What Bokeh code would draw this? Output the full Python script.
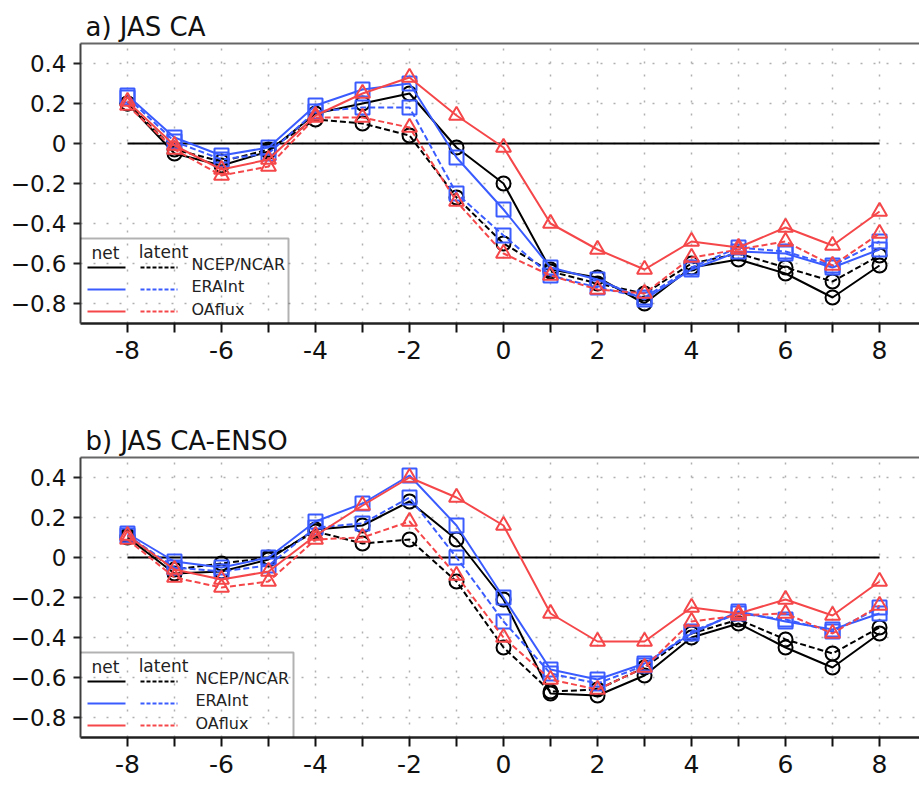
from bokeh.plotting import figure
from bokeh.layouts import column
from bokeh.models import FixedTicker, LinearAxis, BoxAnnotation
from bokeh.core.properties import value
from bokeh.embed import file_html
from bokeh.resources import INLINE

# ---------------- data ----------------
lags = [-8, -7, -6, -5, -4, -3, -2, -1, 0, 1, 2, 3, 4, 5, 6, 7, 8]

# panel a) JAS CA
a_ncep_net = [0.20, -0.05, -0.11, -0.04, 0.15, 0.20, 0.25, -0.02, -0.20, -0.63, -0.67, -0.80, -0.62, -0.58, -0.65, -0.77, -0.61]
a_ncep_lat = [0.20, -0.03, -0.09, -0.03, 0.12, 0.10, 0.04, -0.27, -0.50, -0.64, -0.70, -0.75, -0.60, -0.55, -0.62, -0.69, -0.56]
a_era_net = [0.24, 0.03, -0.06, -0.02, 0.19, 0.27, 0.30, -0.07, -0.33, -0.62, -0.68, -0.78, -0.63, -0.54, -0.55, -0.62, -0.53]
a_era_lat = [0.23, 0.01, -0.08, -0.05, 0.16, 0.18, 0.18, -0.25, -0.46, -0.66, -0.72, -0.77, -0.62, -0.52, -0.54, -0.61, -0.49]
a_oa_net = [0.21, -0.01, -0.13, -0.08, 0.14, 0.25, 0.33, 0.14, -0.02, -0.40, -0.53, -0.63, -0.49, -0.52, -0.42, -0.51, -0.34]
a_oa_lat = [0.19, -0.03, -0.16, -0.115, 0.13, 0.13, 0.08, -0.29, -0.55, -0.66, -0.73, -0.75, -0.57, -0.53, -0.49, -0.61, -0.45]

# panel b) JAS CA-ENSO
b_ncep_net = [0.10, -0.08, -0.07, -0.01, 0.14, 0.16, 0.28, 0.09, -0.21, -0.68, -0.69, -0.59, -0.40, -0.33, -0.45, -0.55, -0.38]
b_ncep_lat = [0.11, -0.06, -0.03, 0.00, 0.13, 0.07, 0.09, -0.12, -0.45, -0.67, -0.66, -0.55, -0.38, -0.31, -0.41, -0.48, -0.35]
b_era_net = [0.12, -0.02, -0.05, 0.00, 0.18, 0.27, 0.41, 0.16, -0.20, -0.56, -0.61, -0.53, -0.38, -0.27, -0.32, -0.36, -0.28]
b_era_lat = [0.11, -0.05, -0.07, -0.04, 0.15, 0.17, 0.30, 0.00, -0.32, -0.58, -0.63, -0.54, -0.37, -0.28, -0.31, -0.37, -0.25]
b_oa_net = [0.11, -0.06, -0.11, -0.07, 0.11, 0.26, 0.40, 0.30, 0.16, -0.28, -0.42, -0.42, -0.25, -0.28, -0.21, -0.29, -0.12]
b_oa_lat = [0.09, -0.10, -0.15, -0.12, 0.09, 0.10, 0.18, -0.09, -0.40, -0.61, -0.66, -0.55, -0.32, -0.29, -0.28, -0.38, -0.24]

titles = ["a) JAS CA", "b) JAS CA-ENSO"]
datasets = ["NCEP/NCAR", "ERAInt", "OAflux"]
y_ticks = [-0.8, -0.6, -0.4, -0.2, 0, 0.2, 0.4]
y_tick_labels = ["\u22120.8", "\u22120.6", "\u22120.4", "\u22120.2", "0", "0.2", "0.4"]
x_major = [-8, -6, -4, -2, 0, 2, 4, 6, 8]
x_minor = [-7, -5, -3, -1, 1, 3, 5, 7]
x_tick_labels = ["-8", "-6", "-4", "-2", "0", "2", "4", "6", "8"]

# ---------------- style ----------------
FONT = "DejaVu Sans"
BLACK = "#000000"
BLUE = "#3a5cff"
RED = "#f5474a"
GRID = "#b0b0b0"
DOT = "2 11"
DASH = "6 3"

X0, X1 = -9.0, 8.85
Y0, Y1 = -0.9, 0.5
FL, FT, FW, FH = 80, 43, 839, 280   # frame left/top/width/height in px


def sx(px):
    return X0 + (px - FL) * (X1 - X0) / FW


def sy(py):
    return Y1 - (py - FT) * (Y1 - Y0) / FH


def make_panel(title, series, height, bottom, legend_right, legend_text_x):
    p = figure(width=919, height=height, output_backend="svg", toolbar_location=None,
               x_range=(X0, X1), y_range=(Y0, Y1),
               min_border_left=FL, min_border_right=0, min_border_top=FT,
               min_border_bottom=bottom, outline_line_color=None,
               background_fill_color="white", border_fill_color="white")
    p.title.text = title
    p.title.text_font = FONT
    p.title.text_font_size = "26px"
    p.title.text_font_style = "normal"
    p.title.text_color = "#111"
    p.title.align = "left"
    p.title.offset = 5
    p.title.standoff = 3

    # bottom axis
    xa = p.xaxis[0]
    xa.ticker = FixedTicker(ticks=x_major, minor_ticks=x_minor)
    xa.major_label_overrides = {t: s for t, s in zip(x_major, x_tick_labels)}
    xa.major_label_text_font = FONT
    xa.major_label_text_font_size = "25px"
    xa.major_label_text_color = "#111"
    xa.major_label_standoff = 8
    xa.major_tick_out = 9
    xa.major_tick_in = 0
    xa.minor_tick_out = 9
    xa.minor_tick_in = 0
    xa.major_tick_line_width = 2
    xa.minor_tick_line_width = 2
    xa.major_tick_line_color = "#111"
    xa.minor_tick_line_color = "#111"
    xa.axis_line_width = 2.5
    xa.axis_line_color = "#222"

    # left axis
    ya = p.yaxis[0]
    ya.ticker = FixedTicker(ticks=y_ticks, minor_ticks=[])
    ya.major_label_overrides = {t: s for t, s in zip(y_ticks, y_tick_labels)}
    ya.major_label_text_font = FONT
    ya.major_label_text_font_size = "23px"
    ya.major_label_text_color = "#111"
    ya.major_label_standoff = 7
    ya.major_tick_out = 7
    ya.major_tick_in = 0
    ya.major_tick_line_width = 2
    ya.major_tick_line_color = "#222"
    ya.axis_line_width = 2
    ya.axis_line_color = "#444"

    # top border as an empty axis
    top = LinearAxis(ticker=FixedTicker(ticks=[]), axis_line_color="#666",
                     axis_line_width=2, major_tick_line_color=None,
                     minor_tick_line_color=None)
    p.add_layout(top, "above")

    # grids
    p.xgrid.grid_line_color = GRID
    p.xgrid.grid_line_dash = DOT
    p.xgrid.grid_line_width = 1.5
    p.xgrid.minor_grid_line_color = GRID
    p.xgrid.minor_grid_line_dash = DOT
    p.xgrid.minor_grid_line_width = 1.5
    p.ygrid.grid_line_color = GRID
    p.ygrid.grid_line_dash = DOT
    p.ygrid.grid_line_width = 1.5

    # zero line
    p.line([lags[0], lags[-1]], [0, 0], line_color=BLACK, line_width=2)

    markers = {BLACK: ("circle", 14), BLUE: ("square", 14), RED: ("triangle", 15)}
    for color, (net, lat) in series:
        mk, sz = markers[color]
        p.line(lags, lat, line_color=color, line_width=2, line_dash=DASH)
        p.scatter(lags, lat, marker=mk, size=sz, line_color=color, line_width=2, fill_color=None)
        p.line(lags, net, line_color=color, line_width=2)
        p.scatter(lags, net, marker=mk, size=sz, line_color=color, line_width=2, fill_color=None)

    # legend (drawn by hand: net / latent columns)
    p.add_layout(BoxAnnotation(left=sx(79), right=sx(legend_right), top=sy(238), bottom=sy(324),
                               fill_color=None, line_color=BLACK, line_width=2))
    p.text(x=[sx(105), sx(163)], y=[sy(252), sy(251)], text=["net", "latent"],
           text_font=value(FONT), text_font_size="17px", text_align="center",
           text_baseline="middle", text_color="#222")
    rows_y = [267, 289, 311]
    text_y = [264, 286, 309]
    for (color, _), ry, ty, name in zip(series, rows_y, text_y, datasets):
        p.segment(x0=[sx(87)], y0=[sy(ry)], x1=[sx(125)], y1=[sy(ry)], line_color=color, line_width=2)
        p.segment(x0=[sx(140)], y0=[sy(ry)], x1=[sx(177)], y1=[sy(ry)], line_color=color,
                  line_width=2, line_dash="4 2")
        p.text(x=[sx(legend_text_x)], y=[sy(ty)], text=[name], text_font=value(FONT),
               text_font_size="16px", text_align="left", text_baseline="middle", text_color="#222")
    return p


pa = make_panel(titles[0], [(BLACK, (a_ncep_net, a_ncep_lat)), (BLUE, (a_era_net, a_era_lat)),
                            (RED, (a_oa_net, a_oa_lat))], 414, 91, 288, 191)
pb = make_panel(titles[1], [(BLACK, (b_ncep_net, b_ncep_lat)), (BLUE, (b_era_net, b_era_lat)),
                            (RED, (b_oa_net, b_oa_lat))], 371, 48, 293, 195)

layout = column(pa, pb, spacing=0)
open("out.html", "w").write(file_html(layout, INLINE))
